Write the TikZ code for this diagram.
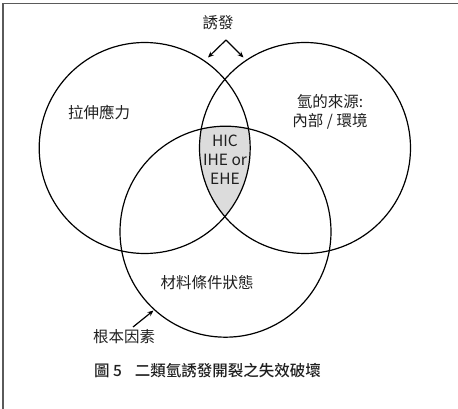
\documentclass[tikz,border=0pt]{standalone}
\usepackage{fontspec}
\setmainfont{Noto Sans CJK TC}
\newfontfamily\capfont{Noto Sans CJK TC Medium}
\usetikzlibrary{arrows.meta}
\definecolor{frameg}{HTML}{5A5A5A}
\definecolor{fillg}{HTML}{DCDCDC}
\tikzset{
  venn/.style={circle, draw=black, line width=1.2pt, minimum size=211pt, inner sep=0pt},
  lbl/.style={font=\fontsize{15.5}{19}\selectfont, align=center, inner sep=0pt, text=black!88},
  arr/.style={-{Stealth[length=6pt,width=5pt]}, line width=1.2pt}
}
\begin{document}
\begin{tikzpicture}[x=1pt,y=-1pt]
\useasboundingbox (0,0) rectangle (458,409);
% frame
\draw[frameg, line width=1.4pt] (458,3.5) -- (3,3.5) -- (3,409);
% shaded intersection
\begin{scope}
  \clip (144.7,148) circle[radius=105.5];
  \clip (305,148) circle[radius=105.5];
  \fill[fillg] (225.5,231.7) circle[radius=105.5];
\end{scope}
% circles
\node[venn] (L) at (144.7,148) {};
\node[venn] (R) at (305,148) {};
\node[venn] (B) at (225.5,231.7) {};
% labels
\node[lbl] (trig) at (218,23) {誘發};
\node[lbl] (stress) at (99,112) {拉伸應力};
\node[lbl] (src) at (330,111.5) {氫的來源:\\內部 / 環境};
\node[lbl] (mid) at (225,160) {HIC\\IHE or\\EHE};
\node[lbl] (mat) at (207,283) {材料條件狀態};
\node[lbl] (root) at (124,337) {根本因素};
\node[lbl, font=\fontsize{15.5}{19}\capfont, anchor=west] (cap) at (94,371) {圖 5\hspace{0.6em} 二類氫誘發開裂之失效破壞};
% arrows
\coordinate (apex) at (226,40);
\coordinate (tl) at (208,57.5);
\coordinate (tr) at (243.5,57.5);
\draw[arr] (apex) -- (tl);
\draw[arr] (apex) -- (tr);
\coordinate (rs) at (133,327);
\coordinate (re) at (153.5,310.5);
\draw[arr] (rs) -- (re);
\end{tikzpicture}
\end{document}
